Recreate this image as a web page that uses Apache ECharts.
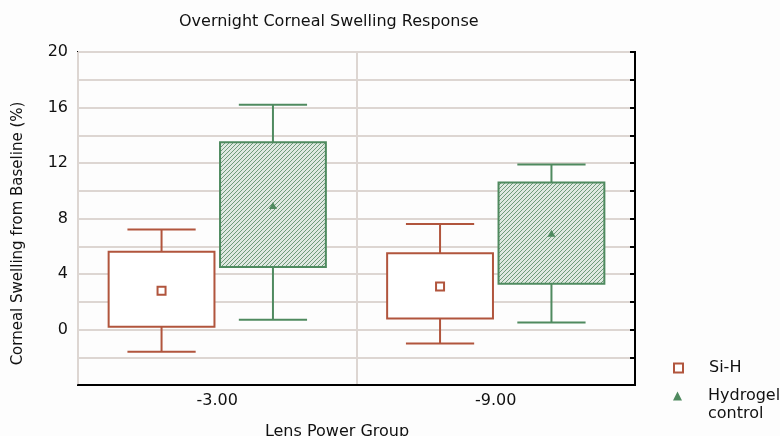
<!DOCTYPE html>
<html>
<head>
<meta charset="utf-8">
<script src="https://cdn.jsdelivr.net/npm/echarts@6/dist/echarts.min.js"></script>
<style>
  html, body { margin: 0; padding: 0; background: #fdfdfd; }
  #chart { width: 780px; height: 436px; }
</style>
</head>
<body>
<div id="chart"></div>
<script>
const categories = ['-3.00', '-9.00']

// Si-H lens
const siWhiskerLow = [-1.6, -1.0]
const siBoxLow = [0.2, 0.8]
const siMean = [2.8, 3.1]
const siBoxHigh = [5.6, 5.5]
const siWhiskerHigh = [7.2, 7.6]

// Hydrogel control lens
const hgWhiskerLow = [0.7, 0.5]
const hgBoxLow = [4.5, 3.3]
const hgMean = [8.9, 6.9]
const hgBoxHigh = [13.5, 10.6]
const hgWhiskerHigh = [16.2, 11.9]

const SI_NAME = 'Si-H'
const HG_NAME = 'Hydrogel control'

const SI_COLOR = '#b1553d'
const HG_COLOR = '#4f8a5f'
const GRID_COLOR = '#ddd6d2'
const FONT = 'DejaVu Sans, sans-serif'

// diagonal hatch for the hydrogel boxes
function makeHatch() {
  const c = document.createElement('canvas')
  c.width = 4
  c.height = 4
  const ctx = c.getContext('2d')
  ctx.fillStyle = '#dfe8e1'
  ctx.fillRect(0, 0, 4, 4)
  ctx.strokeStyle = '#6f9a7a'
  ctx.lineWidth = 1
  ctx.beginPath()
  ctx.moveTo(-1, 5); ctx.lineTo(5, -1)
  ctx.moveTo(-1, 1); ctx.lineTo(1, -1)
  ctx.moveTo(3, 5); ctx.lineTo(5, 3)
  ctx.stroke()
  return c
}
const hatch = makeHatch()

function rows(wl, bl, mean, bh, wh) {
  return categories.map((_, i) => [i, wl[i], bl[i], mean[i], bh[i], wh[i]])
}

function boxRenderer(offset, color, fill, marker) {
  return function (params, api) {
    const cat = api.value(0)
    const band = api.size([1, 0])[0]
    const cx = api.coord([cat, 0])[0] + offset * band
    const boxW = band * 0.38
    const capW = band * 0.245
    const yWl = api.coord([cat, api.value(1)])[1]
    const yBl = api.coord([cat, api.value(2)])[1]
    const yMean = api.coord([cat, api.value(3)])[1]
    const yBh = api.coord([cat, api.value(4)])[1]
    const yWh = api.coord([cat, api.value(5)])[1]
    const line = { stroke: color, lineWidth: 2 }
    const children = [
      { type: 'line', shape: { x1: cx, y1: yWh, x2: cx, y2: yBh }, style: line },
      { type: 'line', shape: { x1: cx, y1: yBl, x2: cx, y2: yWl }, style: line },
      { type: 'line', shape: { x1: cx - capW / 2, y1: yWh, x2: cx + capW / 2, y2: yWh }, style: line },
      { type: 'line', shape: { x1: cx - capW / 2, y1: yWl, x2: cx + capW / 2, y2: yWl }, style: line },
      {
        type: 'rect',
        shape: { x: cx - boxW / 2, y: yBh, width: boxW, height: yBl - yBh },
        style: { fill: fill, stroke: color, lineWidth: 2 },
      },
    ]
    if (marker === 'square') {
      children.push({
        type: 'rect',
        shape: { x: cx - 4, y: yMean - 4, width: 8, height: 8 },
        style: { fill: '#fff', stroke: color, lineWidth: 2 },
      })
    } else {
      children.push({
        type: 'polygon',
        shape: { points: [[cx, yMean - 4], [cx + 4, yMean + 3], [cx - 4, yMean + 3]] },
        style: { fill: color },
      })
    }
    return { type: 'group', children }
  }
}

const legendBase = {
  orient: 'vertical',
  left: 673,
  padding: 0,
  itemWidth: 9,
  itemHeight: 9,
  textStyle: { fontFamily: FONT, fontSize: 16, color: '#111', lineHeight: 18, padding: [0, 0, 0, 21] },
}

const chart = echarts.init(document.getElementById('chart'))

chart.setOption({
  backgroundColor: '#fdfdfd',
  animation: false,
  title: {
    text: 'Overnight Corneal Swelling Response',
    left: 174,
    top: 9,
    textStyle: { fontFamily: FONT, fontSize: 16, fontWeight: 'normal', color: '#111' },
  },
  legend: [
    {
      ...legendBase,
      top: 359,
      data: [{ name: SI_NAME, icon: 'rect', itemStyle: { color: '#fff', borderColor: SI_COLOR, borderWidth: 2 } }],
    },
    {
      ...legendBase,
      top: 369,
      // blank first line so the marker sits beside "Hydrogel"
      formatter: name => ' \n' + name.replace(' ', '\n'),
      data: [{ name: HG_NAME, icon: 'triangle', itemStyle: { color: HG_COLOR } }],
    },
  ],
  grid: {
    left: 78, right: 145, top: 52, bottom: 51,
    outerBoundsMode: 'none',
    show: true, borderColor: '#000', borderWidth: 2, backgroundColor: 'transparent',
  },
  xAxis: {
    type: 'category',
    data: categories,
    name: 'Lens Power Group',
    nameLocation: 'middle',
    nameGap: 39,
    nameTextStyle: { fontFamily: FONT, fontSize: 16, color: '#111', padding: [0, 39, 0, 0] },
    axisLine: { onZero: false, lineStyle: { color: '#000', width: 2 } },
    axisTick: { inside: true, length: 5, lineStyle: { color: '#000', width: 2 } },
    axisLabel: { fontFamily: FONT, fontSize: 16, color: '#111', margin: 8 },
    splitLine: { show: true, lineStyle: { color: GRID_COLOR, width: 2 } },
  },
  yAxis: [
    {
      type: 'value',
      min: -4,
      max: 20,
      interval: 2,
      name: 'Corneal Swelling from Baseline (%)',
      nameLocation: 'middle',
      nameGap: 52,
      nameTextStyle: { fontFamily: FONT, fontSize: 15, color: '#111', padding: [0, 30, 0, 0] },
      axisLine: { onZero: false, lineStyle: { color: '#000', width: 2 } },
      axisTick: { inside: true, length: 5, lineStyle: { color: '#000', width: 2 } },
      axisLabel: {
        fontFamily: FONT, fontSize: 16, color: '#111', margin: 10,
        formatter: v => (v % 4 === 0 && v >= 0 ? String(v) : ''),
      },
      splitLine: { show: true, lineStyle: { color: GRID_COLOR, width: 2 } },
    },
    {
      type: 'value',
      position: 'right',
      min: -4,
      max: 20,
      interval: 2,
      axisLine: { show: true, onZero: false, lineStyle: { color: '#000', width: 2 } },
      axisTick: { show: true, inside: true, length: 5, lineStyle: { color: '#000', width: 2 } },
      axisLabel: { show: false },
      splitLine: { show: false },
    },
  ],
  series: [
    {
      name: SI_NAME,
      type: 'custom',
      renderItem: boxRenderer(-0.2, SI_COLOR, '#fff', 'square'),
      encode: { x: 0, y: [1, 2, 3, 4, 5] },
      itemStyle: { color: SI_COLOR },
      data: rows(siWhiskerLow, siBoxLow, siMean, siBoxHigh, siWhiskerHigh),
      z: 3,
    },
    {
      name: HG_NAME,
      type: 'custom',
      renderItem: boxRenderer(0.2, HG_COLOR, { image: hatch, repeat: 'repeat' }, 'triangle'),
      encode: { x: 0, y: [1, 2, 3, 4, 5] },
      itemStyle: { color: HG_COLOR },
      data: rows(hgWhiskerLow, hgBoxLow, hgMean, hgBoxHigh, hgWhiskerHigh),
      z: 3,
    },
  ],
})
</script>
</body>
</html>
